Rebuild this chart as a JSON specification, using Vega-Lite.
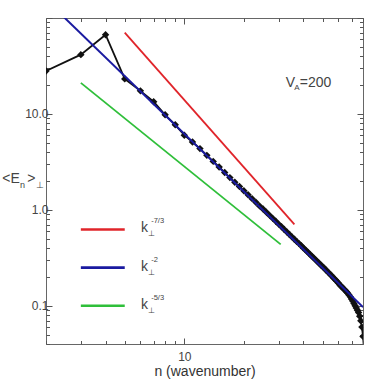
{
  "$schema": "https://vega.github.io/schema/vega-lite/v6.json",
  "width": 317,
  "height": 326,
  "autosize": {"type": "none"},
  "padding": {"left": 46, "top": 18, "right": 19, "bottom": 38},
  "background": "white",
  "config": {
    "font": "Liberation Sans",
    "view": {"stroke": "#666", "strokeWidth": 1},
    "axis": {
      "grid": false,
      "domain": false,
      "tickColor": "#555",
      "tickWidth": 1,
      "labelColor": "#444",
      "labelFont": "Liberation Sans",
      "labelFontSize": 12,
      "titleFont": "Liberation Sans",
      "titleFontWeight": "normal",
      "titleColor": "#333",
      "labelOverlap": false,
      "labelFlush": false
    }
  },
  "datasets": {
    "black": [
      {"n": 2, "v": 28}, {"n": 3, "v": 41.5}, {"n": 4, "v": 67}, {"n": 5, "v": 23.2},
      {"n": 6, "v": 17.4}, {"n": 7, "v": 13.4}, {"n": 8, "v": 9.8}, {"n": 9, "v": 7.7},
      {"n": 10, "v": 6.0}, {"n": 11, "v": 5.1}, {"n": 12, "v": 4.35}, {"n": 13, "v": 3.7},
      {"n": 14, "v": 3.2}, {"n": 15, "v": 2.8}, {"n": 16, "v": 2.45}, {"n": 17, "v": 2.17},
      {"n": 18, "v": 1.94}, {"n": 19, "v": 1.75}, {"n": 20, "v": 1.58}, {"n": 21, "v": 1.44},
      {"n": 22, "v": 1.31}, {"n": 23, "v": 1.2}, {"n": 24, "v": 1.1}, {"n": 25, "v": 1.02},
      {"n": 26, "v": 0.945}, {"n": 27, "v": 0.876}, {"n": 28, "v": 0.815}, {"n": 29, "v": 0.76},
      {"n": 30, "v": 0.71}, {"n": 31, "v": 0.666}, {"n": 32, "v": 0.625}, {"n": 33, "v": 0.588},
      {"n": 34, "v": 0.554}, {"n": 35, "v": 0.523}, {"n": 36, "v": 0.495}, {"n": 37, "v": 0.469},
      {"n": 38, "v": 0.445}, {"n": 39, "v": 0.422}, {"n": 40, "v": 0.401}, {"n": 41, "v": 0.382},
      {"n": 42, "v": 0.364}, {"n": 43, "v": 0.347}, {"n": 44, "v": 0.331}, {"n": 45, "v": 0.317},
      {"n": 46, "v": 0.303}, {"n": 47, "v": 0.29}, {"n": 48, "v": 0.278}, {"n": 49, "v": 0.266},
      {"n": 50, "v": 0.256}, {"n": 51, "v": 0.246}, {"n": 52, "v": 0.236}, {"n": 53, "v": 0.227},
      {"n": 54, "v": 0.218}, {"n": 55, "v": 0.21}, {"n": 56, "v": 0.202}, {"n": 57, "v": 0.194},
      {"n": 58, "v": 0.187}, {"n": 59, "v": 0.18}, {"n": 60, "v": 0.173}, {"n": 61, "v": 0.166},
      {"n": 62, "v": 0.16}, {"n": 63, "v": 0.155}, {"n": 64, "v": 0.15}, {"n": 65, "v": 0.145},
      {"n": 66, "v": 0.14}, {"n": 67, "v": 0.135}, {"n": 68, "v": 0.13}, {"n": 69, "v": 0.124},
      {"n": 70, "v": 0.118}, {"n": 71, "v": 0.112}, {"n": 72, "v": 0.106}, {"n": 73, "v": 0.1},
      {"n": 74, "v": 0.095}, {"n": 75, "v": 0.09}, {"n": 76, "v": 0.085}, {"n": 77, "v": 0.078},
      {"n": 78, "v": 0.07}, {"n": 79, "v": 0.06}, {"n": 80, "v": 0.048}, {"n": 81, "v": 0.035}
    ],
    "blue": [{"n": 2, "v": 155}, {"n": 80, "v": 0.0969}],
    "red": [{"n": 5, "v": 70.5}, {"n": 36, "v": 0.705}],
    "green": [{"n": 3, "v": 21.1}, {"n": 30.7, "v": 0.437}],
    "legendLines": [
      {"series": "-7/3", "n": 3, "v": 0.625}, {"series": "-7/3", "n": 5, "v": 0.625},
      {"series": "-2", "n": 3, "v": 0.25}, {"series": "-2", "n": 5, "v": 0.25},
      {"series": "-5/3", "n": 3, "v": 0.1}, {"series": "-5/3", "n": 5, "v": 0.1}
    ],
    "legendK": [
      {"n": 6.05, "v": 0.625, "label": "k"},
      {"n": 6.05, "v": 0.25, "label": "k"},
      {"n": 6.05, "v": 0.1, "label": "k"}
    ],
    "legendPerp": [
      {"n": 6.55, "v": 0.625, "label": "⊥"},
      {"n": 6.55, "v": 0.25, "label": "⊥"},
      {"n": 6.55, "v": 0.1, "label": "⊥"}
    ],
    "legendExp": [
      {"n": 6.8, "v": 0.625, "label": "-7/3"},
      {"n": 6.8, "v": 0.25, "label": "-2"},
      {"n": 6.8, "v": 0.1, "label": "-5/3"}
    ],
    "vaMain": [
      {"n": 32.6, "v": 21.1, "label": "V"},
      {"n": 38.3, "v": 21.1, "label": "=200"}
    ],
    "vaSub": [{"n": 35.9, "v": 21.1, "label": "A"}],
    "ytMain": [
      {"n": 1.203, "v": 2.08, "label": "<E"},
      {"n": 1.607, "v": 2.08, "label": ">"}
    ],
    "ytSub": [
      {"n": 1.48, "v": 2.08, "label": "n"},
      {"n": 1.774, "v": 2.08, "label": "⊥"}
    ]
  },
  "encoding": {
    "x": {"field": "n", "type": "quantitative", "scale": {"type": "log", "domain": [2, 80], "nice": false}, "axis": null},
    "y": {"field": "v", "type": "quantitative", "scale": {"type": "log", "domain": [0.04, 100], "nice": false}, "axis": null}
  },
  "layer": [
    {
      "data": {"name": "black"},
      "mark": {"type": "line", "color": "#111", "strokeWidth": 1.8, "clip": true},
      "encoding": {
        "x": {"field": "n", "type": "quantitative", "scale": {"type": "log", "domain": [2, 80], "nice": false},
          "axis": {"orient": "bottom", "values": [2,3,4,5,6,7,8,9,10,20,30,40,50,60,70,80],
            "labelExpr": "datum.value == 10 ? '10' : ''",
            "tickSize": {"condition": {"test": "datum.value == 10", "value": -6}, "value": -3.5},
            "labelPadding": 13, "title": "n (wavenumber)", "titleFontSize": 14, "titlePadding": 0}},
        "y": {"field": "v", "type": "quantitative", "scale": {"type": "log", "domain": [0.04, 100], "nice": false},
          "axis": {"orient": "left", "values": [0.04,0.05,0.06,0.07,0.08,0.09,0.1,0.2,0.3,0.4,0.5,0.6,0.7,0.8,0.9,1,2,3,4,5,6,7,8,9,10,20,30,40,50,60,70,80,90,100],
            "labelExpr": "datum.value == 0.1 ? '0.1' : datum.value == 1 ? '1.0' : datum.value == 10 ? '10.0' : ''",
            "tickSize": {"condition": {"test": "datum.value == 0.1 || datum.value == 1 || datum.value == 10 || datum.value == 100", "value": -6}, "value": -3.5},
            "labelPadding": 4, "title": null}}
      }
    },
    {
      "data": {"name": "black"},
      "mark": {"type": "point", "shape": "diamond", "filled": true, "color": "#111", "size": 55, "opacity": 1, "clip": true}
    },
    {
      "data": {"name": "blue"},
      "mark": {"type": "line", "color": "#1a1aa0", "strokeWidth": 2, "clip": true},
      "encoding": {
        "x": {"field": "n", "type": "quantitative", "scale": {"type": "log", "domain": [2, 80], "nice": false},
          "axis": {"orient": "top", "values": [2,3,4,5,6,7,8,9,10,20,30,40,50,60,70,80], "labels": false,
            "tickSize": {"condition": {"test": "datum.value == 10", "value": -6}, "value": -3.5}, "title": null}},
        "y": {"field": "v", "type": "quantitative", "scale": {"type": "log", "domain": [0.04, 100], "nice": false},
          "axis": {"orient": "right", "values": [0.04,0.05,0.06,0.07,0.08,0.09,0.1,0.2,0.3,0.4,0.5,0.6,0.7,0.8,0.9,1,2,3,4,5,6,7,8,9,10,20,30,40,50,60,70,80,90,100], "labels": false,
            "tickSize": {"condition": {"test": "datum.value == 0.1 || datum.value == 1 || datum.value == 10 || datum.value == 100", "value": -6}, "value": -3.5}, "title": null}}
      }
    },
    {
      "data": {"name": "red"},
      "mark": {"type": "line", "color": "#e0242a", "strokeWidth": 1.8, "clip": true}
    },
    {
      "data": {"name": "green"},
      "mark": {"type": "line", "color": "#2fbf3a", "strokeWidth": 1.8, "clip": true}
    },
    {
      "data": {"name": "legendLines"},
      "mark": {"type": "line", "strokeWidth": 2.6},
      "encoding": {
        "color": {"field": "series", "type": "nominal", "scale": {"domain": ["-7/3", "-2", "-5/3"], "range": ["#e0242a", "#1a1aa0", "#2fbf3a"]}, "legend": null},
        "detail": {"field": "series"}
      }
    },
    {
      "data": {"name": "legendK"},
      "mark": {"type": "text", "align": "left", "baseline": "middle", "fontSize": 14, "color": "#444", "dy": -1},
      "encoding": {"text": {"field": "label"}}
    },
    {
      "data": {"name": "legendPerp"},
      "mark": {"type": "text", "align": "left", "baseline": "middle", "fontSize": 8, "color": "#444", "dy": 5},
      "encoding": {"text": {"field": "label"}}
    },
    {
      "data": {"name": "legendExp"},
      "mark": {"type": "text", "align": "left", "baseline": "middle", "fontSize": 7.5, "color": "#444", "dy": -8},
      "encoding": {"text": {"field": "label"}}
    },
    {
      "data": {"name": "vaMain"},
      "mark": {"type": "text", "align": "left", "baseline": "middle", "fontSize": 14, "color": "#444"},
      "encoding": {"text": {"field": "label"}}
    },
    {
      "data": {"name": "vaSub"},
      "mark": {"type": "text", "align": "left", "baseline": "middle", "fontSize": 8, "color": "#444", "dy": 5},
      "encoding": {"text": {"field": "label"}}
    },
    {
      "data": {"name": "ytMain"},
      "mark": {"type": "text", "align": "left", "baseline": "middle", "fontSize": 14, "color": "#444"},
      "encoding": {"text": {"field": "label"}}
    },
    {
      "data": {"name": "ytSub"},
      "mark": {"type": "text", "align": "left", "baseline": "middle", "fontSize": 9, "color": "#444", "dy": 6},
      "encoding": {"text": {"field": "label"}}
    }
  ],
  "resolve": {"axis": {"x": "independent", "y": "independent"}}
}
